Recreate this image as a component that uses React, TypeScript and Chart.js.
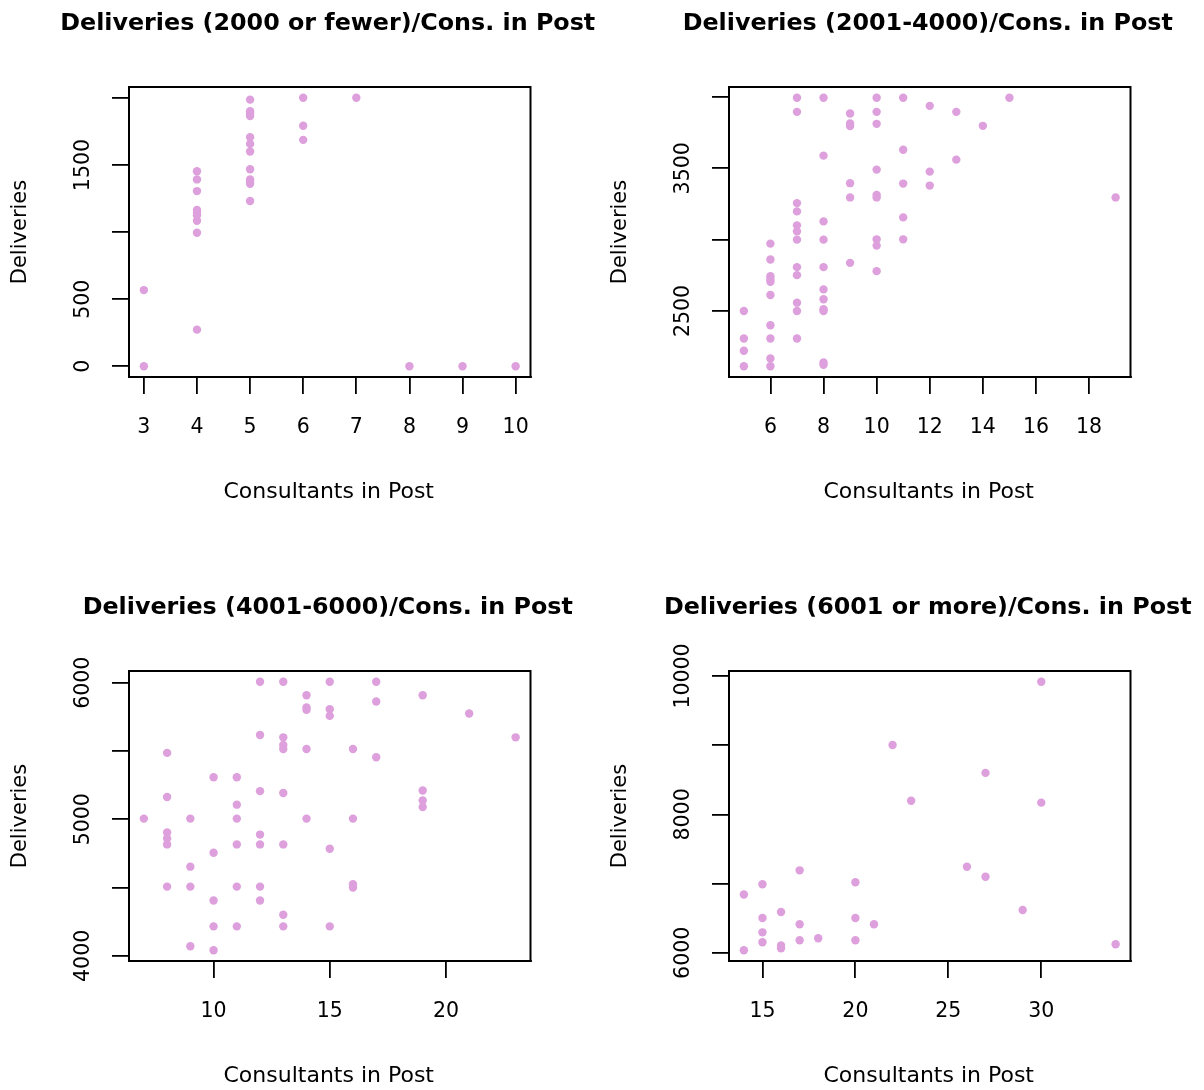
import React, { useEffect, useRef } from "react";
import { Chart, registerables } from "chart.js";

Chart.register(...registerables);

// ---------- Panel 1: Deliveries (2000 or fewer) ----------
const p1Consultants = [3, 3, 4, 4, 4, 4, 4, 4, 4, 4, 4, 5, 5, 5, 5, 5, 5, 5, 5, 5, 5, 5, 5, 6, 6, 6, 7, 8, 9, 10];
const p1Deliveries = [568, 0, 1454, 1393, 1306, 1165, 1145, 1125, 1085, 995, 273, 1988, 1902, 1884, 1865, 1707, 1658, 1601, 1469, 1393, 1375, 1360, 1232, 2002, 1793, 1688, 2002, 0, 0, 0];
const p1XTicks = [3, 4, 5, 6, 7, 8, 9, 10];
const p1XLabels = [3, 4, 5, 6, 7, 8, 9, 10];
const p1YTicks = [0, 500, 1000, 1500, 2000];
const p1YLabels = [0, 500, 1500];

// ---------- Panel 2: Deliveries (2001-4000) ----------
const p2Consultants = [
  5, 5, 5, 5,
  6, 6, 6, 6, 6, 6, 6, 6, 6, 6,
  7, 7, 7, 7, 7, 7, 7, 7, 7, 7, 7, 7,
  8, 8, 8, 8, 8, 8, 8, 8, 8, 8, 8,
  9, 9, 9, 9, 9, 9,
  10, 10, 10, 10, 10, 10, 10, 10, 10,
  11, 11, 11, 11, 11,
  12, 12, 12,
  13, 13,
  14, 15, 19,
];
const p2Deliveries = [
  2500, 2307, 2221, 2112,
  2972, 2861, 2744, 2721, 2705, 2612, 2400, 2307, 2167, 2112,
  3995, 3896, 3256, 3198, 3100, 3058, 3000, 2807, 2751, 2558, 2500, 2307,
  3995, 3589, 3128, 3000, 2807, 2651, 2582, 2512, 2500, 2139, 2123,
  3884, 3814, 3796, 3396, 3296, 2837,
  3995, 3896, 3812, 3491, 3314, 3296, 3002, 2958, 2779,
  3995, 3630, 3393, 3156, 3002,
  3938, 3477, 3379,
  3896, 3561,
  3798, 3995, 3296,
];
const p2XTicks = [6, 8, 10, 12, 14, 16, 18];
const p2XLabels = [6, 8, 10, 12, 14, 16, 18];
const p2YTicks = [2500, 3000, 3500, 4000];
const p2YLabels = [2500, 3500];

// ---------- Panel 3: Deliveries (4001-6000) ----------
const p3Consultants = [
  7,
  8, 8, 8, 8, 8, 8,
  9, 9, 9, 9,
  10, 10, 10, 10, 10,
  11, 11, 11, 11, 11, 11,
  12, 12, 12, 12, 12, 12, 12,
  13, 13, 13, 13, 13, 13, 13, 13,
  14, 14, 14, 14, 14,
  15, 15, 15, 15, 15,
  16, 16, 16, 16,
  17, 17, 17,
  19, 19, 19, 19,
  21, 23,
];
const p3Deliveries = [
  5005,
  5486, 5163, 4903, 4859, 4816, 4507,
  5005, 4653, 4507, 4070,
  5308, 4755, 4405, 4216, 4041,
  5308, 5107, 5005, 4816, 4507, 4216,
  6007, 5617, 5206, 4888, 4816, 4507, 4405,
  6007, 5600, 5544, 5515, 5192, 4816, 4301, 4216,
  5908, 5818, 5801, 5515, 5005,
  6007, 5806, 5757, 4784, 4216,
  5515, 5005, 4524, 4500,
  6007, 5862, 5454,
  5908, 5211, 5138, 5090,
  5774, 5600,
];
const p3XTicks = [10, 15, 20];
const p3XLabels = [10, 15, 20];
const p3YTicks = [4000, 4500, 5000, 5500, 6000];
const p3YLabels = [4000, 5000, 6000];

// ---------- Panel 4: Deliveries (6001 or more) ----------
const p4Consultants = [14, 14, 15, 15, 15, 15, 16, 16, 16, 17, 17, 17, 18, 20, 20, 20, 21, 22, 23, 26, 27, 27, 29, 30, 30, 34];
const p4Deliveries = [6842, 6037, 6991, 6503, 6296, 6152, 6589, 6105, 6067, 7192, 6412, 6182, 6210, 7020, 6503, 6182, 6412, 9003, 8198, 7244, 8600, 7100, 6618, 9917, 8170, 6124];
const p4XTicks = [15, 20, 25, 30];
const p4XLabels = [15, 20, 25, 30];
const p4YTicks = [6000, 7000, 8000, 9000, 10000];
const p4YLabels = [6000, 8000, 10000];

const titles = [
  "Deliveries (2000 or fewer)/Cons. in Post",
  "Deliveries (2001-4000)/Cons. in Post",
  "Deliveries (4001-6000)/Cons. in Post",
  "Deliveries (6001 or more)/Cons. in Post",
];
const xTitle = "Consultants in Post";
const yTitle = "Deliveries";

const POINT_COLOR = "#DDA0DD";
const FONT = '"DejaVu Sans", Verdana, sans-serif';

// local layout of each panel
const BOX_L = 129;
const BOX_R = 530.5;
const BOX_T = 87;
const BOX_B = 377;
const AXIS_W = 60;
const AXIS_H = 40;

function rRange(vals: number[]): [number, number] {
  const lo = Math.min(...vals);
  const hi = Math.max(...vals);
  const d = (hi - lo) * 0.04;
  return [lo - d, hi + d];
}

type PanelProps = {
  left: number;
  top: number;
  width: number;
  height: number;
  title: string;
  xs: number[];
  ys: number[];
  xTicks: number[];
  xLabels: number[];
  yTicks: number[];
  yLabels: number[];
};

function Panel(props: PanelProps) {
  const ref = useRef<HTMLCanvasElement | null>(null);
  useEffect(() => {
    const canvas = ref.current;
    if (!canvas) return;
    const { width, height, title, xs, ys, xTicks, xLabels, yTicks, yLabels } = props;
    const [xMin, xMax] = rRange(xs);
    const [yMin, yMax] = rRange(ys);

    const decor = {
      id: "rDecor",
      afterDraw(chart: any) {
        const { ctx, chartArea } = chart;
        const xs_ = chart.scales.x;
        const ys_ = chart.scales.y;
        ctx.save();
        ctx.strokeStyle = "#000";
        ctx.lineWidth = 2;
        ctx.strokeRect(chartArea.left, chartArea.top, chartArea.right - chartArea.left, chartArea.bottom - chartArea.top);
        ctx.fillStyle = "#000";
        ctx.textAlign = "center";
        ctx.textBaseline = "middle";
        ctx.font = `20.5px ${FONT}`;
        xLabels.forEach((v) => {
          ctx.fillText(String(v), xs_.getPixelForValue(v), 428);
        });
        yLabels.forEach((v) => {
          ctx.save();
          ctx.translate(84, ys_.getPixelForValue(v));
          ctx.rotate(-Math.PI / 2);
          ctx.fillText(String(v), 0, 0);
          ctx.restore();
        });
        const cx = (chartArea.left + chartArea.right) / 2;
        const cy = (chartArea.top + chartArea.bottom) / 2;
        ctx.font = `22px ${FONT}`;
        ctx.fillText(xTitle, cx - 1, 492.5);
        ctx.font = `21px ${FONT}`;
        ctx.save();
        ctx.translate(20.5, cy);
        ctx.rotate(-Math.PI / 2);
        ctx.fillText(yTitle, 0, 0);
        ctx.restore();
        ctx.font = `bold 23.8px ${FONT}`;
        ctx.fillText(title, cx - 2, 23.5);
        ctx.restore();
      },
    };

    const chart = new Chart(canvas, {
      type: "scatter",
      data: {
        datasets: [
          {
            data: xs.map((x, i) => ({ x, y: ys[i] })),
            pointRadius: 4.2,
            pointHoverRadius: 4.2,
            pointBackgroundColor: POINT_COLOR,
            pointBorderWidth: 0,
            pointBorderColor: POINT_COLOR,
            showLine: false,
          },
        ],
      },
      options: {
        responsive: false,
        animation: false,
        events: [],
        layout: {
          padding: {
            left: BOX_L - AXIS_W,
            top: BOX_T,
            right: width - BOX_R,
            bottom: height - BOX_B - AXIS_H,
          },
        },
        plugins: {
          legend: { display: false },
          tooltip: { enabled: false },
          title: { display: false },
        },
        scales: {
          x: {
            type: "linear",
            min: xMin,
            max: xMax,
            afterBuildTicks: (s: any) => {
              s.ticks = xTicks.map((v) => ({ value: v }));
            },
            afterFit: (s: any) => {
              s.height = AXIS_H;
            },
            ticks: { display: false },
            grid: { drawOnChartArea: false, drawTicks: true, tickLength: 17, color: "#000", lineWidth: 1.8 },
            border: { display: true, color: "#000", width: 2 },
          },
          y: {
            type: "linear",
            min: yMin,
            max: yMax,
            afterBuildTicks: (s: any) => {
              s.ticks = yTicks.map((v) => ({ value: v }));
            },
            afterFit: (s: any) => {
              s.width = AXIS_W;
            },
            ticks: { display: false },
            grid: { drawOnChartArea: false, drawTicks: true, tickLength: 17, color: "#000", lineWidth: 1.8 },
            border: { display: true, color: "#000", width: 2 },
          },
        },
      } as any,
      plugins: [decor],
    });
    return () => chart.destroy();
  }, []);

  return (
    <canvas
      ref={ref}
      width={props.width}
      height={props.height}
      style={{ position: "absolute", left: props.left, top: props.top, width: props.width, height: props.height }}
    />
  );
}

export default function App() {
  return (
    <div style={{ position: "absolute", left: 0, top: 0, width: 1204, height: 1090, background: "#fff", overflow: "hidden" }}>
      <Panel left={0} top={0} width={600} height={584} title={titles[0]} xs={p1Consultants} ys={p1Deliveries} xTicks={p1XTicks} xLabels={p1XLabels} yTicks={p1YTicks} yLabels={p1YLabels} />
      <Panel left={600} top={0} width={604} height={584} title={titles[1]} xs={p2Consultants} ys={p2Deliveries} xTicks={p2XTicks} xLabels={p2XLabels} yTicks={p2YTicks} yLabels={p2YLabels} />
      <Panel left={0} top={584} width={600} height={506} title={titles[2]} xs={p3Consultants} ys={p3Deliveries} xTicks={p3XTicks} xLabels={p3XLabels} yTicks={p3YTicks} yLabels={p3YLabels} />
      <Panel left={600} top={584} width={604} height={506} title={titles[3]} xs={p4Consultants} ys={p4Deliveries} xTicks={p4XTicks} xLabels={p4XLabels} yTicks={p4YTicks} yLabels={p4YLabels} />
    </div>
  );
}
